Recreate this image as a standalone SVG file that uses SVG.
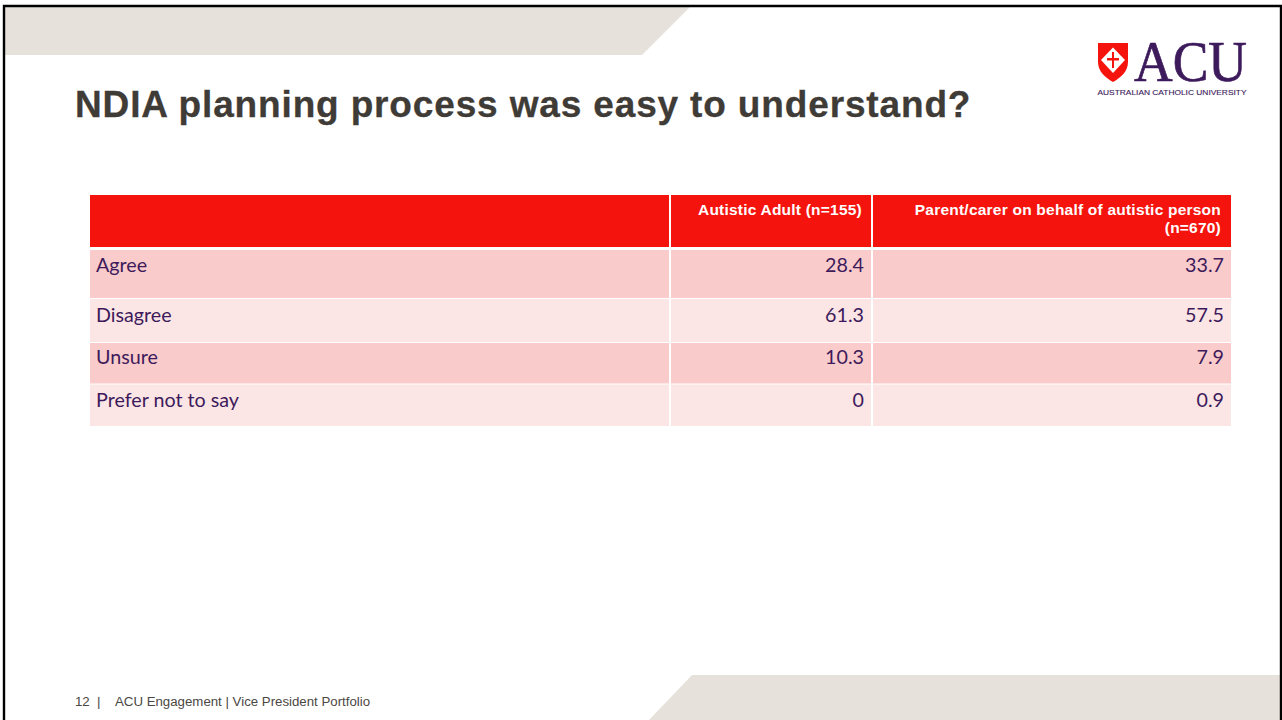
<svg xmlns="http://www.w3.org/2000/svg" width="1282" height="720" viewBox="0 0 1282 720">
<style>
.bg{fill:#e6e2db}
.hd{fill:#f5130d}
.a{fill:#f9cbca}
.b{fill:#fbe6e5}
.h{font:bold 15.5px "Liberation Sans",Arial,sans-serif;letter-spacing:.22px;fill:#fff;text-anchor:end}
.c{font:19.7px Lato,"Noto Sans",sans-serif;fill:#3d1a5b}
.n{text-anchor:end}
.sep{stroke:#fff;stroke-width:2;fill:none}
</style>
<rect width="1282" height="720" fill="#fff"/>
<g id="decor">
<polygon class="bg" points="5,7 690,7 642,55 5,55"/>
<polygon class="bg" points="692,675 1280,675 1280,720 649,720"/>
<path d="M4,720V6H1281V720" fill="none" stroke="#000" stroke-width="2.4"/>
</g>
<g id="logo">
<path d="M1098,43H1128V62C1128,72 1120,78 1113,82C1106,78 1098,72 1098,62Z" fill="#f5130d"/>
<path d="M1113,47.500L1125,60L1113,73L1101,60Z" fill="#fff"/>
<path d="M1112,52H1114V58H1119V60.500H1114V68H1112V60.500H1107V58H1112Z" fill="#f5130d"/>
<text x="1134" y="81" font-family="'Liberation Serif',serif" font-size="57" fill="#3d1a5b" stroke="#3d1a5b" stroke-width=".7" textLength="113" lengthAdjust="spacingAndGlyphs">ACU</text>
<text x="1097.500" y="94.500" font-family="'Liberation Sans',sans-serif" font-size="7.800" fill="#3d1a5b" stroke="#3d1a5b" stroke-width=".12" textLength="149" lengthAdjust="spacingAndGlyphs">AUSTRALIAN CATHOLIC UNIVERSITY</text>
</g>
<g id="title">
<text x="75" y="117" font-family="'Liberation Sans',Arial,sans-serif" font-weight="bold" font-size="37" letter-spacing=".85" fill="#3f3b36" stroke="#3f3b36" stroke-width=".3">NDIA planning process was easy to understand?</text>
</g>
<g id="table">
<rect class="hd" x="90" y="195" width="1141" height="52"/>
<rect class="a" x="90" y="250" width="1141" height="48"/>
<rect class="b" x="90" y="299" width="1141" height="43"/>
<rect class="a" x="90" y="343" width="1141" height="40.500"/>
<rect class="b" x="90" y="384.500" width="1141" height="41.500"/>
<path class="sep" d="M670,195V426M872,195V426" stroke-width="1.500"/>
<text class="h" x="862" y="215">Autistic Adult (n=155)</text>
<text class="h" x="1221" y="215">Parent/carer on behalf of autistic person</text>
<text class="h" x="1221" y="233">(n=670)</text>
<text class="c" x="96" y="271.500">Agree</text>
<text class="c n" x="864" y="271.500">28.4</text>
<text class="c n" x="1224" y="271.500">33.7</text>
<text class="c" x="96" y="321.500">Disagree</text>
<text class="c n" x="864" y="321.500">61.3</text>
<text class="c n" x="1224" y="321.500">57.5</text>
<text class="c" x="96" y="363.500">Unsure</text>
<text class="c n" x="864" y="363.500">10.3</text>
<text class="c n" x="1224" y="363.500">7.9</text>
<text class="c" x="96" y="406.500">Prefer not to say</text>
<text class="c n" x="864" y="406.500">0</text>
<text class="c n" x="1224" y="406.500">0.9</text>
</g>
<g id="footer" font-family="'Liberation Sans',Arial,sans-serif" font-size="13.250" fill="#4a4743">
<text x="75" y="706">12</text>
<text x="97" y="706">|</text>
<text x="115" y="706">ACU Engagement | Vice President Portfolio</text>
</g>
</svg>
